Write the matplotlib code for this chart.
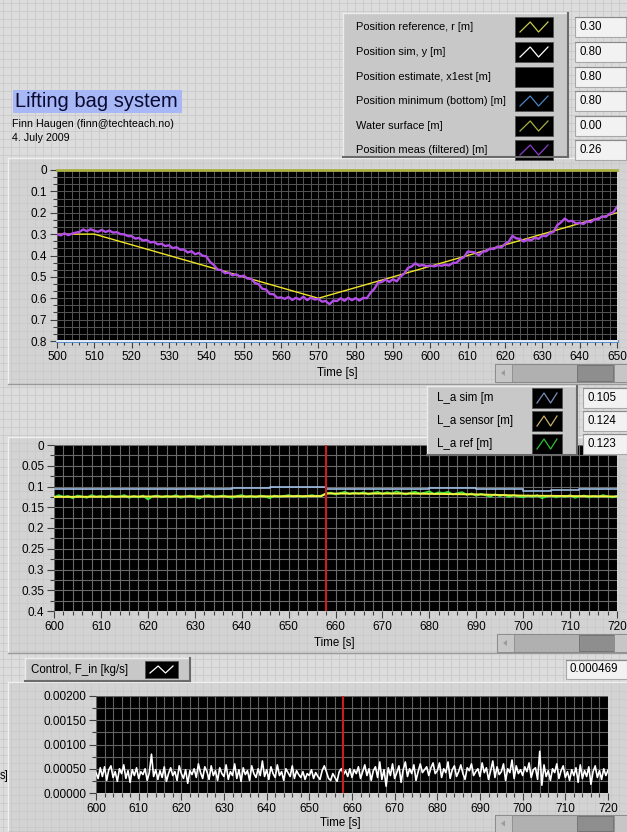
import numpy as np
import matplotlib.pyplot as plt
from matplotlib.patches import Rectangle, Polygon
from matplotlib.ticker import MultipleLocator, FuncFormatter

# --- CONFIG ---
W, H = 627, 832
BG = '#dcdcdc'
PANEL = '#d3d3d3'

plt.rcParams['font.family'] = ['Liberation Sans', 'DejaVu Sans']

# --- chart 1: position (t = 500..650 s, 1 s step) ---
t1 = np.arange(500, 651)
pos_meas = [
    0.300, 0.306, 0.296, 0.305, 0.298, 0.293, 0.290, 0.278, 0.286, 0.277,
    0.284, 0.289, 0.280, 0.290, 0.283, 0.293, 0.291, 0.300, 0.301, 0.309,
    0.310, 0.321, 0.318, 0.330, 0.327, 0.339, 0.336, 0.348, 0.345, 0.356,
    0.352, 0.366, 0.361, 0.373, 0.372, 0.386, 0.380, 0.394, 0.388, 0.401,
    0.404, 0.430, 0.444, 0.466, 0.468, 0.483, 0.480, 0.493, 0.488, 0.499,
    0.494, 0.508, 0.509, 0.528, 0.534, 0.556, 0.559, 0.580, 0.581, 0.598,
    0.596, 0.603, 0.594, 0.608, 0.598, 0.606, 0.593, 0.609, 0.597, 0.606,
    0.603, 0.616, 0.613, 0.628, 0.611, 0.613, 0.600, 0.612, 0.598, 0.609,
    0.599, 0.611, 0.598, 0.600, 0.574, 0.556, 0.527, 0.524, 0.512, 0.524,
    0.511, 0.521, 0.498, 0.485, 0.458, 0.451, 0.436, 0.448, 0.444, 0.450,
    0.447, 0.451, 0.445, 0.448, 0.443, 0.447, 0.435, 0.434, 0.417, 0.408,
    0.382, 0.383, 0.386, 0.400, 0.382, 0.380, 0.367, 0.370, 0.358, 0.363,
    0.346, 0.335, 0.308, 0.320, 0.322, 0.335, 0.325, 0.329, 0.317, 0.322,
    0.307, 0.310, 0.295, 0.290, 0.258, 0.245, 0.227, 0.240, 0.238, 0.250,
    0.247, 0.253, 0.240, 0.244, 0.230, 0.231, 0.217, 0.220, 0.205, 0.199,
    0.172]
ref_t = [500, 510, 570, 650]
ref_r = [0.30, 0.30, 0.60, 0.20]
edge_t = [500, 650]
water_surface = [0.0, 0.0]
pos_bottom = [0.8, 0.8]
pos_sim = [0.8, 0.8]

legend1_names = ['Position reference, r [m]', 'Position sim, y [m]',
                 'Position estimate, x1est [m]', 'Position minimum (bottom) [m]',
                 'Water surface [m]', 'Position meas (filtered) [m]']
legend1_colors = ['#c8c850', 'white', None, '#4a86c8', '#a8b040', '#8a3cc8']
legend1_values = ['0.30', '0.80', '0.80', '0.80', '0.00', '0.26']

# --- chart 2: L_a (t = 600..720 s) ---
t2 = np.arange(600, 721)
la_ref = [
    0.126, 0.121, 0.125, 0.123, 0.128, 0.122, 0.124, 0.127, 0.121, 0.125,
    0.123, 0.126, 0.122, 0.125, 0.124, 0.121, 0.127, 0.123, 0.126, 0.122,
    0.131, 0.124, 0.122, 0.126, 0.123, 0.125, 0.121, 0.127, 0.124, 0.122,
    0.125, 0.129, 0.123, 0.121, 0.126, 0.124, 0.122, 0.125, 0.127, 0.123,
    0.121, 0.125, 0.123, 0.126, 0.122, 0.124, 0.128, 0.122, 0.125, 0.123,
    0.121, 0.124, 0.122, 0.125, 0.123, 0.121, 0.124, 0.122,
    0.117, 0.115, 0.119, 0.116, 0.113, 0.118, 0.115, 0.117, 0.114, 0.119, 0.116, 0.113,
    0.118, 0.114, 0.117, 0.112, 0.116, 0.119, 0.115, 0.113, 0.117, 0.115,
    0.112, 0.118, 0.114, 0.116, 0.113, 0.119, 0.116, 0.114, 0.120, 0.117,
    0.122, 0.118, 0.121, 0.124, 0.119, 0.123, 0.120, 0.125, 0.121, 0.124,
    0.126, 0.122, 0.125, 0.121, 0.128, 0.124, 0.122, 0.126, 0.123, 0.125,
    0.121, 0.127, 0.124, 0.122, 0.126, 0.123, 0.125, 0.121, 0.124, 0.126, 0.123]
sensor_t = [600, 620, 640, 657, 658, 675, 690, 700, 720]
la_sensor = [0.125, 0.124, 0.124, 0.123, 0.117, 0.117, 0.119, 0.122, 0.124]
sim_t = [600, 606, 614, 622, 630, 638, 646, 652, 658, 664, 672, 680, 690, 700, 706, 712, 720]
la_sim = [0.107, 0.105, 0.107, 0.106, 0.105, 0.104, 0.102, 0.100, 0.107,
          0.105, 0.106, 0.104, 0.106, 0.112, 0.109, 0.107, 0.105]

legend2_names = ['L_a sim [m', 'L_a sensor [m]', 'L_a ref [m]']
legend2_colors = ['#7890b8', '#c8b070', '#30c030']
legend2_values = ['0.105', '0.124', '0.123']

# --- chart 3: control F_in (t = 600..720 s, 0.5 s step), in 1e-4 kg/s ---
t3 = np.arange(600, 720.5, 0.5)
f_in_e4 = [
    4.2, 3.0, 5.2, 3.4, 5.4, 2.6, 4.8, 5.6, 3.2, 4.4, 2.4, 5.0, 4.0, 5.8, 3.0, 4.6, 2.2, 4.8, 3.6, 5.2,
    3.0, 4.4, 3.8, 5.0, 2.6, 4.2, 8.0, 3.4, 4.8, 2.8, 4.6, 3.2, 5.4, 2.4, 4.0, 5.2, 3.6, 4.4, 2.6, 5.6,
    4.0, 3.0, 4.8, 2.0, 4.6, 3.8, 5.0, 3.2, 6.0, 4.2, 3.0, 5.4, 4.4, 2.8, 5.6, 3.6, 4.6, 2.6, 5.2, 4.0,
    3.4, 5.8, 2.8, 4.4, 3.6, 6.0, 3.0, 4.8, 2.4, 5.2, 3.8, 4.6, 2.6, 5.6, 4.0, 3.2, 5.0, 3.6, 6.6, 3.4,
    4.8, 2.8, 5.4, 4.0, 3.2, 5.8, 3.6, 4.4, 2.6, 5.0, 4.2, 3.4, 5.6, 3.0, 4.6, 3.8, 3.2, 4.4, 2.8, 4.0,
    3.6, 4.8, 3.0, 4.2, 3.4, 2.8, 4.6, 5.6, 4.4, 3.0, 2.6, 4.0, 3.2, 2.4, 4.4, 5.0, 3.8, 4.6, 3.4, 5.0,
    3.2, 4.8, 4.0, 5.4, 3.0, 4.4, 5.8, 3.6, 5.0, 2.6, 4.6, 5.4, 3.2, 6.4, 2.8, 4.8, 1.4, 5.2, 3.6, 6.0,
    3.0, 4.2, 5.6, 2.2, 4.8, 6.4, 3.4, 5.0, 4.0, 5.8, 2.6, 4.4, 6.0, 4.2, 4.8, 5.4, 3.6, 5.2, 6.2, 4.0,
    4.6, 6.2, 3.2, 5.0, 4.2, 6.4, 3.0, 4.8, 5.6, 3.4, 4.4, 5.8, 4.0, 2.8, 5.2, 4.6, 6.0, 3.6, 4.4, 5.0,
    3.4, 6.2, 4.2, 5.2, 2.8, 4.6, 6.6, 3.2, 5.4, 3.8, 4.4, 6.0, 2.6, 5.0, 4.2, 6.8, 3.0, 5.6, 4.0, 4.8,
    3.6, 5.4, 4.4, 6.2, 3.2, 4.8, 5.2, 2.8, 8.6, 1.6, 5.8, 3.4, 4.6, 2.6, 5.0, 4.2, 6.0, 3.0, 4.6, 5.6,
    3.2, 4.4, 2.6, 4.8, 3.6, 5.2, 2.2, 5.8, 3.0, 4.6, 3.4, 5.4, 1.8, 4.4, 5.6, 3.2, 4.6, 2.8, 5.0, 3.6,
    4.7]
f_in = np.array(f_in_e4) * 1e-4
cursor_t = 658


fig = plt.figure(figsize=(W / 100, H / 100), dpi=100)
fig.patch.set_facecolor(BG)

# background layer in pixel coordinates
bg = fig.add_axes([0, 0, 1, 1], zorder=0)
bg.set_xlim(0, W)
bg.set_ylim(H, 0)
bg.axis('off')
for gx in np.arange(3, W, 8):
    bg.axvline(gx, color='#cacaca', lw=0.6)
for gy in np.arange(3, H, 8):
    bg.axhline(gy, color='#cacaca', lw=0.6)

# graph panels
for (x0, y0, x1, y1) in [(8, 158, W, 384), (8, 437, W, 653), (8, 682, W, H)]:
    bg.add_patch(Rectangle((x0, y0), x1 - x0, y1 - y0, fc=PANEL, ec='none'))
    bg.plot([x0, x1], [y0, y0], color='#f0f0f0', lw=1)
    bg.plot([x0, x0], [y0, y1], color='#f0f0f0', lw=1)
    bg.plot([x0, x1], [y1, y1], color='#9a9a9a', lw=1)

# overlay layer (legends, indicators, scrollbars)
ov = fig.add_axes([0, 0, 1, 1], zorder=10)
ov.set_xlim(0, W)
ov.set_ylim(H, 0)
ov.axis('off')
ov.patch.set_alpha(0)


def px_axes(x0, y0, x1, y1):
    ax = fig.add_axes([x0 / W, 1 - y1 / H, (x1 - x0) / W, (y1 - y0) / H], zorder=5)
    ax.set_facecolor('black')
    for s in ax.spines.values():
        s.set_visible(False)
    ax.tick_params(which='both', direction='out', color='#404040', labelcolor='black',
                   labelsize=8.5, pad=2, width=0.8)
    ax.tick_params(which='major', length=5)
    ax.tick_params(which='minor', length=3)
    ax.set_axisbelow(True)
    return ax


def raised_box(x0, y0, x1, y1, fc='#c8c8c8'):
    ov.add_patch(Rectangle((x0, y0), x1 - x0, y1 - y0, fc=fc, ec='none'))
    ov.plot([x0, x1], [y0, y0], color='#ececec', lw=1)
    ov.plot([x0, x0], [y0, y1], color='#ececec', lw=1)
    ov.plot([x1, x1], [y0, y1], color='#6a6a6a', lw=1.5)
    ov.plot([x0, x1], [y1, y1], color='#6a6a6a', lw=1.5)


def swatch(x0, y0, w, h, color):
    ov.add_patch(Rectangle((x0, y0), w, h, fc='black', ec='#505050', lw=0.6))
    if color:
        ov.plot([x0 + 5, x0 + w * 0.4, x0 + w * 0.62, x0 + w - 5],
                [y0 + h - 5, y0 + 5, y0 + h - 5, y0 + 5], color=color, lw=0.9)


def value_box(x0, y0, x1, y1, text):
    ov.add_patch(Rectangle((x0, y0), x1 - x0, y1 - y0, fc='#f2f2f2', ec='#a8a8a8', lw=0.8))
    ov.plot([x0, x1], [y0, y0], color='#8a8a8a', lw=0.8)
    ov.text(x0 + 4, (y0 + y1) / 2, text, va='center', ha='left', fontsize=8.3)


def scrollbar(x0, y0, x1, y1):
    h = y1 - y0
    ov.add_patch(Rectangle((x0, y0), x1 - x0, h, fc='#b0b0b0', ec='#8a8a8a', lw=0.8))
    ov.add_patch(Rectangle((x0, y0), 17, h, fc='#c6c6c6', ec='#8a8a8a', lw=0.6))
    ov.add_patch(Polygon([[x0 + 10, y0 + h / 2 - 3], [x0 + 10, y0 + h / 2 + 3], [x0 + 6, y0 + h / 2]],
                         fc='#9a9a9a', ec='none'))
    ov.add_patch(Rectangle((x0 + 82, y0 + 1), 36, h - 2, fc='#8e8e8e', ec='#6e6e6e', lw=0.6))
    ov.add_patch(Rectangle((x1 - 13, y0), 13, h, fc='#c6c6c6', ec='#8a8a8a', lw=0.6))


def legend_rows(x_text, x_sw, sw_w, x_val0, x_val1, rows, names, colors, values, fs=8.0):
    for y, name, col, val in zip(rows, names, colors, values):
        ov.text(x_text, y, name, va='center', ha='left', fontsize=fs)
        swatch(x_sw, y - 10, sw_w, 20, col)
        value_box(x_val0, y - 10, x_val1, y + 10, val)


# --- title block ---
ov.add_patch(Rectangle((13, 90), 169, 23, fc='#a8b8f6', ec='none'))
ov.text(15, 101.5, 'Lifting bag system', va='center', ha='left', fontsize=14.5, color='#0a0a30')
ov.text(12, 124, 'Finn Haugen (finn@techteach.no)', va='center', ha='left', fontsize=7.7)
ov.text(12, 138, '4. July 2009', va='center', ha='left', fontsize=7.7)

# --- legend chart 1 ---
raised_box(343, 13, 568, 157)
legend_rows(356, 515, 38, 575, 626, [27, 52, 77, 101, 126, 150],
            legend1_names, legend1_colors, legend1_values, fs=7.9)

# --- chart 1 ---
ax1 = px_axes(57, 170, 617, 341)
ax1.plot(edge_t, water_surface, color='#a8b040', lw=2, clip_on=False)
ax1.plot(edge_t, pos_bottom, color='#4a86c8', lw=2, clip_on=False)
ax1.plot(edge_t, pos_sim, color='white', lw=1.2, clip_on=False)
ax1.plot(ref_t, ref_r, color='#f0e428', lw=1.0)
ax1.plot(t1, pos_meas, color='#b24ee6', lw=1.7)
ax1.set_xlim(500, 650)
ax1.set_ylim(0.8, 0)
ax1.xaxis.set_major_locator(MultipleLocator(10))
ax1.xaxis.set_minor_locator(MultipleLocator(2))
ax1.yaxis.set_major_locator(MultipleLocator(0.1))
ax1.yaxis.set_minor_locator(MultipleLocator(0.1 / 3))
ax1.yaxis.set_major_formatter(FuncFormatter(lambda v, p: '%g' % round(v, 3)))
ax1.grid(which='both', color='#565656', lw=0.7)
ov.text(337, 373, 'Time [s]', va='center', ha='center', fontsize=8.3)
scrollbar(495, 364, 627, 382)

# --- legend chart 2 ---
raised_box(427, 386, 577, 455)
legend_rows(437, 532, 30, 583, 627, [398, 421, 444],
            legend2_names, legend2_colors, legend2_values, fs=8.3)

# --- chart 2 ---
ax2 = px_axes(54, 445, 617, 611)
ax2.plot(sim_t, la_sim, color='#9cbce0', lw=1.2, drawstyle='steps-post')
ax2.plot(t2, la_ref, color='#3ee03a', lw=1.4)
ax2.plot(sensor_t, la_sensor, color='#f2f040', lw=1.4)
ax2.axvline(cursor_t, color='#c81e1e', lw=1.5)
ax2.set_xlim(600, 720)
ax2.set_ylim(0.4, 0)
ax2.xaxis.set_major_locator(MultipleLocator(10))
ax2.xaxis.set_minor_locator(MultipleLocator(2))
ax2.yaxis.set_major_locator(MultipleLocator(0.05))
ax2.yaxis.set_minor_locator(MultipleLocator(0.025))
ax2.yaxis.set_major_formatter(FuncFormatter(lambda v, p: '%g' % round(v, 3)))
ax2.grid(which='both', color='#6a6a6a', lw=0.8)
ov.text(334, 643, 'Time [s]', va='center', ha='center', fontsize=8.3)
scrollbar(497, 634, 627, 652)

# --- legend chart 3 ---
raised_box(25, 658, 190, 681)
ov.text(31, 669.5, 'Control, F_in [kg/s]', va='center', ha='left', fontsize=8.3)
swatch(145, 661, 33, 17, 'white')
value_box(566, 660, 627, 679, '0.000469')
ov.text(0, 776, 's]', va='center', ha='left', fontsize=8.3)

# --- chart 3 ---
ax3 = px_axes(96, 696, 608, 793)
ax3.plot(t3, f_in, color='white', lw=1.2)
ax3.axvline(cursor_t, color='#c81e1e', lw=1.5)
ax3.set_xlim(600, 720)
ax3.set_ylim(0, 0.002)
ax3.xaxis.set_major_locator(MultipleLocator(10))
ax3.xaxis.set_minor_locator(MultipleLocator(2))
ax3.yaxis.set_major_locator(MultipleLocator(0.0005))
ax3.yaxis.set_minor_locator(MultipleLocator(0.00025))
ax3.yaxis.set_major_formatter(FuncFormatter(lambda v, p: '%.5f' % v))
ax3.grid(which='both', color='#626262', lw=0.8)
ov.text(340, 823, 'Time [s]', va='center', ha='center', fontsize=8.3)
scrollbar(495, 815, 627, 832)

fig.savefig('out.png', dpi=100, facecolor=fig.get_facecolor())
